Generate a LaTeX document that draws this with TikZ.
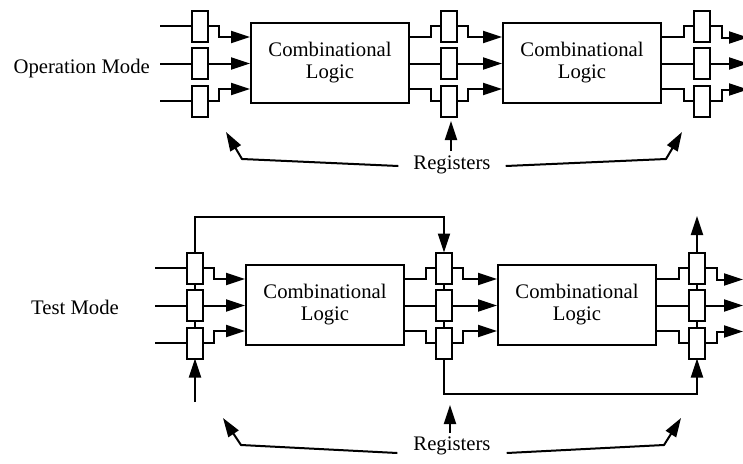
\documentclass[tikz,border=0pt]{standalone}
\usepackage{fontspec}
\setmainfont{Liberation Serif}
\usetikzlibrary{arrows.meta}
\newcommand\stagediag[3]{%
\begin{scope}[shift={(#2,#3)}]
  \foreach \cc/\xx in {L/195,M/444,R/697}
    \foreach \rr/\yy in {1/268,2/305.5,3/343}
      \node[reg] (#1\cc\rr) at (\xx,\yy) {};
  \node[cl] (#1A) at (325,305) {Combinational\\Logic};
  \node[cl] (#1B) at (577,305) {Combinational\\Logic};
  \foreach \rr/\yy in {1/268,2/305.5,3/343}
    \coordinate (#1in\rr) at (155,\yy);
  \foreach \rr/\yy in {1/279.5,2/305.5,3/331.5}
    \coordinate (#1out\rr) at (743,\yy);
  \coordinate (#1Ai1) at ([yshift=26pt]#1A.west);
  \coordinate (#1Ai3) at ([yshift=-26pt]#1A.west);
  \coordinate (#1Ao1) at ([yshift=26pt]#1A.east);
  \coordinate (#1Ao3) at ([yshift=-26pt]#1A.east);
  \coordinate (#1Bi1) at ([yshift=26pt]#1B.west);
  \coordinate (#1Bi3) at ([yshift=-26pt]#1B.west);
  \coordinate (#1Bo1) at ([yshift=26pt]#1B.east);
  \coordinate (#1Bo3) at ([yshift=-26pt]#1B.east);
  % inputs
  \foreach \rr in {1,2,3} \draw[ln] (#1in\rr) -- (#1L\rr.west);
  % left registers -> CL A
  \draw[arr] (#1L1.east) -- ++(11,0) |- (#1Ai1);
  \draw[arr] (#1L2.east) -- (#1L2.east -| #1A.west);
  \draw[arr] (#1L3.east) -- ++(11,0) |- (#1Ai3);
  % CL A -> middle registers
  \draw[ln] (#1Ao1) -- ++(21,0) |- (#1M1.west);
  \draw[ln] (#1M2.west -| #1A.east) -- (#1M2.west);
  \draw[ln] (#1Ao3) -- ++(21,0) |- (#1M3.west);
  % middle registers -> CL B
  \draw[arr] (#1M1.east) -- ++(11,0) |- (#1Bi1);
  \draw[arr] (#1M2.east) -- (#1M2.east -| #1B.west);
  \draw[arr] (#1M3.east) -- ++(11,0) |- (#1Bi3);
  % CL B -> right registers
  \draw[ln] (#1Bo1) -- ++(22,0) |- (#1R1.west);
  \draw[ln] (#1R2.west -| #1B.east) -- (#1R2.west);
  \draw[ln] (#1Bo3) -- ++(22,0) |- (#1R3.west);
  % outputs
  \draw[arr] (#1R1.east) -- ++(12,0) |- (#1out1);
  \draw[arr] (#1R2.east) -- (#1out2);
  \draw[arr] (#1R3.east) -- ++(12,0) |- (#1out3);
\end{scope}}
\begin{document}
\begin{tikzpicture}[x=1pt,y=-1pt,
  ln/.style={line width=2pt},
  arr/.style={ln,-{Triangle[length=19pt,width=12pt]}},
  reg/.style={draw,line width=2pt,minimum width=16pt,minimum height=31pt,inner sep=0pt,outer sep=0pt},
  cl/.style={draw,line width=2pt,minimum width=158pt,minimum height=80pt,inner sep=0pt,align=center,font=\fontsize{20.7}{22}\selectfont},
  lbl/.style={font=\fontsize{20.7}{22}\selectfont,inner sep=0pt}]
\useasboundingbox (0,0) rectangle (743,463);
\fill[white] (0,0) rectangle (743,463);

% ---------- operation mode ----------
\stagediag{t}{5}{-242}
\node[lbl,anchor=base east] (opm) at (150,73.5) {Operation Mode};
\node[lbl,anchor=base] (rt) at (452,169) {Registers};
\coordinate (rtl1) at (242,159);
\coordinate (rtl2) at (226,132);
\coordinate (rtr1) at (666,159);
\coordinate (rtr2) at (682,132);
\coordinate (rtm) at (451,121);
\draw[arr] ([shift={(-15pt,3pt)}]rt.base west) -- (rtl1) -- (rtl2);
\draw[arr] ([shift={(15pt,3pt)}]rt.base east) -- (rtr1) -- (rtr2);
\draw[arr] ([yshift=4pt]rt.north -| rtm) -- (rtm);

% ---------- test mode ----------
\stagediag{b}{0}{0}
\node[lbl,anchor=base east] (tm) at (119,314) {Test Mode};
% scan chain links
\foreach \cc in {L,M,R} {
  \draw[ln] (b\cc1.south) -- (b\cc2.north);
  \draw[ln] (b\cc2.south) -- (b\cc3.north);
}
\coordinate (bscanin) at (195,402);
\coordinate (bscanout) at (697,216);
\draw[arr] (bscanin) -- (bL3.south);
\draw[arr] (bL1.north) -- ++(0,-35.5) -| (bM1.north);
\draw[arr] (bM3.south) -- ++(0,35.5) -| (bR3.south);
\draw[arr] (bR1.north) -- (bscanout);

\node[lbl,anchor=base] (rb) at (452,450) {Registers};
\coordinate (rbl1) at (241,445);
\coordinate (rbl2) at (223,418);
\coordinate (rbr1) at (664,445);
\coordinate (rbr2) at (681,418);
\coordinate (rbm) at (450,405);
\draw[arr] ([shift={(-16pt,-3pt)}]rb.base west) -- (rbl1) -- (rbl2);
\draw[arr] ([shift={(16pt,-3pt)}]rb.base east) -- (rbr1) -- (rbr2);
\draw[arr] ([yshift=3pt]rb.north -| rbm) -- (rbm);
\end{tikzpicture}
\end{document}
